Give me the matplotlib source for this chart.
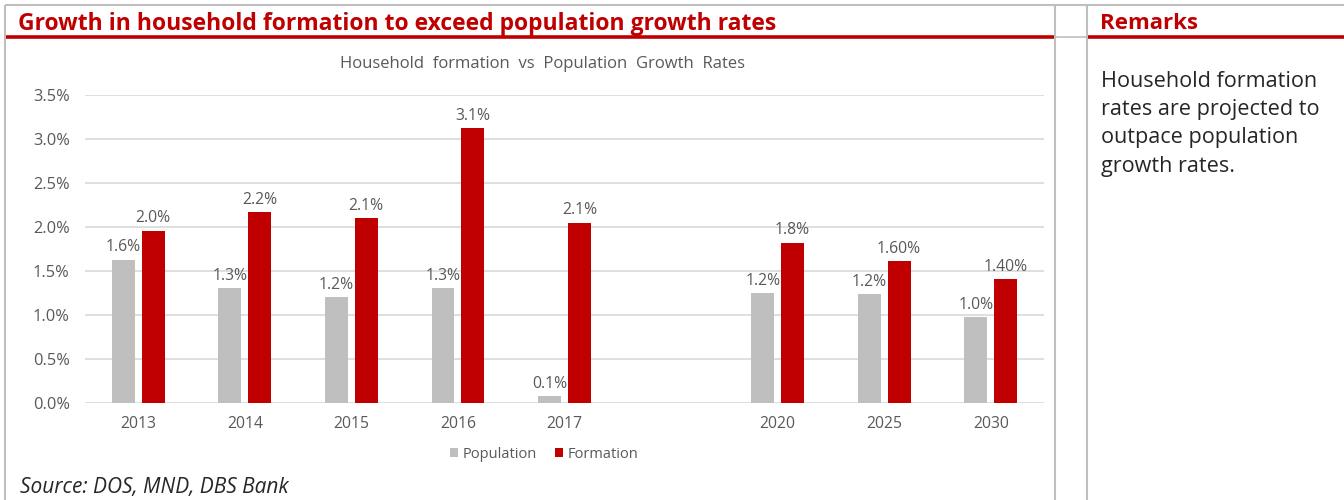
import matplotlib
matplotlib.use("Agg")
import matplotlib.pyplot as plt
from matplotlib.lines import Line2D
import numpy as np

# data (growth rates, %)
years = ["2013", "2014", "2015", "2016", "2017", "", "2020", "2025", "2030"]
population = [1.63, 1.31, 1.20, 1.31, 0.08, None, 1.25, 1.24, 0.98]
formation = [1.96, 2.17, 2.10, 3.12, 2.05, None, 1.82, 1.61, 1.41]
pop_labels = ["1.6%", "1.3%", "1.2%", "1.3%", "0.1%", "", "1.2%", "1.2%", "1.0%"]
form_labels = ["2.0%", "2.2%", "2.1%", "3.1%", "2.1%", "", "1.8%", "1.60%", "1.40%"]
y_ticks = [0.0, 0.5, 1.0, 1.5, 2.0, 2.5, 3.0, 3.5]

RED = "#C00000"
GREY_BAR = "#BFBFBF"
TXT = "#595959"
FRAME = "#BFBFBF"

plt.rcParams['font.family'] = ['Open Sans', 'DejaVu Sans']

W, H = 1344, 500
fig = plt.figure(figsize=(W / 100, H / 100), dpi=100)


def fx(px):
    return px / W


def fy(py):
    return 1 - py / H


def hline(x0, x1, y, color, lw):
    fig.add_artist(Line2D([fx(x0), fx(x1)], [fy(y), fy(y)], color=color, lw=lw,
                          transform=fig.transFigure, solid_capstyle="butt"))


def vline(x, y0, y1, color, lw):
    fig.add_artist(Line2D([fx(x), fx(x)], [fy(y0), fy(y1)], color=color, lw=lw,
                          transform=fig.transFigure, solid_capstyle="butt"))


# frame around the panel
hline(5, W, 5, FRAME, 1.5)
vline(5, 5, H, FRAME, 1.5)
vline(1055, 5, H, FRAME, 1.5)
vline(1086.5, 5, H, FRAME, 1.5)
hline(6, 1054, 36.5, RED, 2.6)
hline(1056, 1086, 36.5, FRAME, 1.2)
hline(1088, W, 36.5, RED, 2.6)

# headings
fig.text(fx(18), fy(23.5), "Growth in household formation to exceed population growth rates",
         color=RED, fontsize=16.5, fontweight="bold", va="center", ha="left")
fig.text(fx(1100), fy(23.5), "Remarks", color=RED, fontsize=16, fontweight="bold",
         va="center", ha="left")
fig.text(fx(1101), fy(71), "Household formation\nrates are projected to\noutpace population\ngrowth rates.",
         color="#262626", fontsize=15.6, va="top", ha="left", linespacing=1.45)
fig.text(fx(20), fy(488), "Source: DOS, MND, DBS Bank", color="#262626", fontsize=15,
         style="italic", va="center", ha="left")
fig.text(fx(542), fy(63.5), "Household  formation  vs  Population  Growth  Rates", color=TXT,
         fontsize=12, va="center", ha="center")

# chart
ax = fig.add_axes([fx(85), fy(403), fx(1044) - fx(85), (403 - 95) / H])
x = np.arange(len(years))
w = 0.215
off = 0.14
pop_vals = np.array([np.nan if v is None else v for v in population])
form_vals = np.array([np.nan if v is None else v for v in formation])
b1 = ax.bar(x - off, pop_vals, w, color=GREY_BAR, label="Population", zorder=3)
b2 = ax.bar(x + off, form_vals, w, color=RED, label="Formation", zorder=3)

for i in range(len(years)):
    if population[i] is not None:
        ax.annotate(pop_labels[i], (x[i] - off, population[i]), xytext=(0, 8.7),
                    textcoords="offset points", ha="center", va="center",
                    fontsize=11.3, color=TXT, zorder=4)
    if formation[i] is not None:
        ax.annotate(form_labels[i], (x[i] + off, formation[i]), xytext=(0, 8.9),
                    textcoords="offset points", ha="center", va="center",
                    fontsize=11.3, color=TXT, zorder=4)

ax.set_xlim(-0.5, len(years) - 0.5)
ax.set_ylim(0, 3.5)
ax.set_yticks(y_ticks)
ax.set_yticklabels([f"{v:.1f}%" for v in y_ticks])
ax.set_xticks(x)
ax.set_xticklabels(years)
ax.tick_params(length=0, labelsize=11.3, colors=TXT)
ax.tick_params(axis="y", labelsize=11.8, pad=11)
ax.tick_params(axis="x", pad=9.5)
ax.grid(axis="y", color="#D9D9D9", lw=1.2, zorder=0)
for s in ax.spines.values():
    s.set_visible(False)

leg = fig.legend(handles=[b1, b2], loc="center", bbox_to_anchor=(fx(544), fy(454)),
                 ncol=2, frameon=False, fontsize=10.5, handlelength=0.6, handleheight=0.6,
                 handletextpad=0.3, columnspacing=1.2, labelcolor=TXT)

fig.savefig("out.png", dpi=100)
